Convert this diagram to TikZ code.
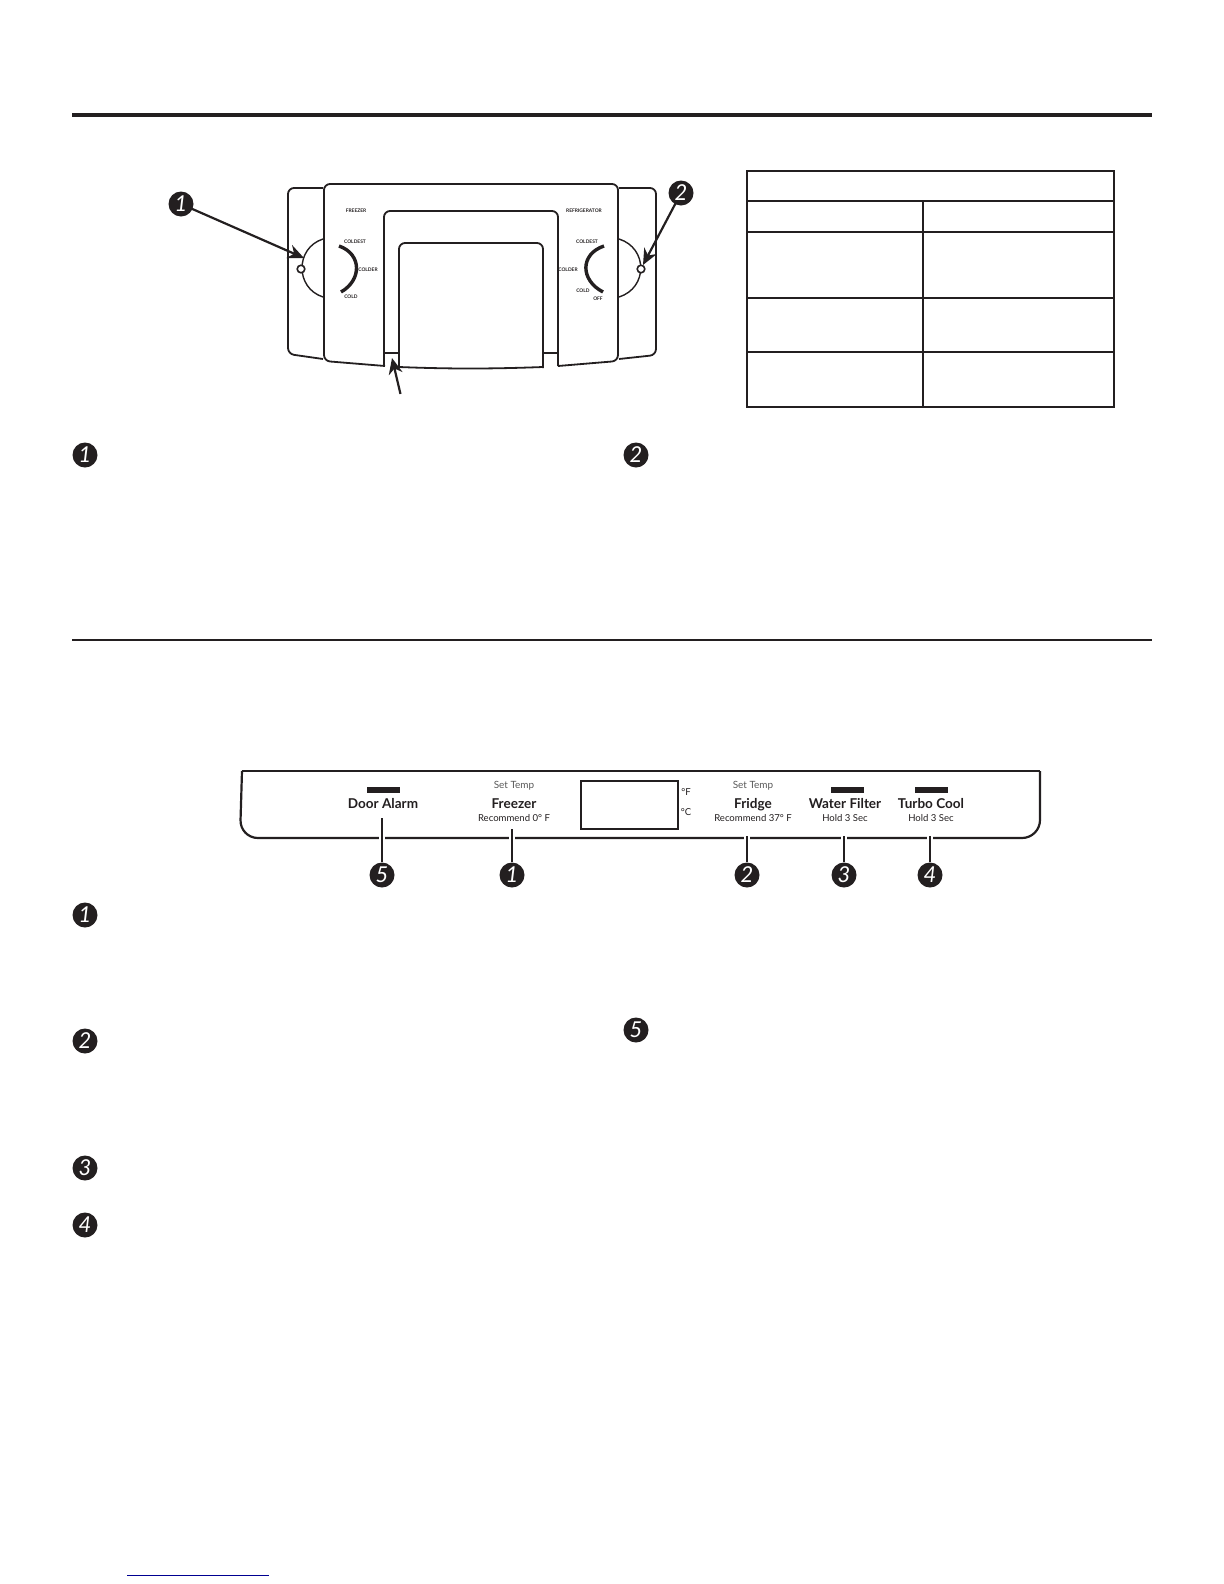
\documentclass[tikz,border=0pt]{standalone}
\usepackage{fontspec}
\setmainfont{Lato}
\usetikzlibrary{arrows.meta, positioning}
\definecolor{inkblack}{RGB}{35,31,32}
\definecolor{linkblue}{RGB}{0,0,145}

\tikzset{
  numbadge/.style={circle, fill=inkblack, text=white, inner sep=0pt, minimum size=12.5bp, font=\itshape\fontsize{11}{11}\selectfont},
  panelline/.style={draw=inkblack, line width=0.9bp, rounded corners=3bp},
  dialarc/.style={draw=inkblack, line width=1.7bp},
  dialring/.style={circle, draw=inkblack, fill=white, line width=0.8bp, inner sep=0pt, minimum size=3.8bp},
  dialtext/.style={inner sep=0pt, text=inkblack, font=\bfseries\fontsize{2.45}{3}\selectfont},
  callout/.style={draw=inkblack, line width=1.1bp, -{Stealth[length=8bp,width=7bp]}, shorten <=-1bp},
  setlabel/.style={inner sep=0pt, text=black!65, font=\fontsize{5}{5}\selectfont},
  keylabel/.style={inner sep=0pt, text=inkblack, text height=1.5ex, text depth=0.3ex, font=\fontsize{6.8}{7}\fontseries{b}\selectfont},
  sublabel/.style={inner sep=0pt, text=inkblack, font=\fontsize{4.8}{5}\selectfont},
  keybar/.style={fill=inkblack, inner sep=0pt, minimum width=16.5bp, minimum height=3bp},
  ticklink/.style={draw=inkblack, line width=1.1bp, preaction={draw=white, line width=3bp}},
  gridline/.style={draw=inkblack, line width=1bp}
}

\begin{document}
\begin{tikzpicture}[x=0.5bp, y=-0.5bp]
\useasboundingbox (0,0) rectangle (1224,1584);

\draw[inkblack, line width=2bp] (72,115) -- (1152,115);
\draw[inkblack, line width=1bp] (72,640) -- (1152,640);
\draw[linkblue, line width=0.5bp] (127,1575) -- (269,1575);

% knob housing
\draw[panelline] (323,188) -- (288,188) -- (288,354) -- (323,359);
\draw[panelline] (619,188) -- (656,188) -- (656,355) -- (619,359);
\draw[panelline] (385,366) -- (324,361) -- (324,184) -- (618,184) -- (618,361) -- (558,366);
\draw[panelline] (384,366) -- (384,211) -- (558,211) -- (558,366);
\draw[panelline] (399,368) -- (399,243) -- (543,243) -- (543,368);
\draw[inkblack, line width=0.9bp] (399,367) .. controls (450,369) and (490,369) .. (543,367);
\draw[inkblack, line width=0.9bp] (384,353) -- (399,353);
\draw[inkblack, line width=0.9bp] (543,353) -- (558,353);

\draw[inkblack, line width=0.7bp] (323,239) .. controls (295,248) and (295,288) .. (323,297);
\draw[inkblack, line width=0.7bp] (619,239) .. controls (648,248) and (648,288) .. (619,297);
\draw[dialarc] (339,246) .. controls (362,254) and (362,280) .. (341,292);
\draw[dialarc] (604,246) .. controls (580,254) and (580,280) .. (603,292);

\node[dialring] (ringfreezer) at (301,269) {};
\node[dialring] (ringfridge) at (641,269) {};

\node[dialtext] (freezertitle) at (356,211) {FREEZER};
\node[dialtext] (freezercoldest) at (355,242) {COLDEST};
\node[dialtext] (freezercolder) at (368,270) {COLDER};
\node[dialtext] (freezercold) at (351,297) {COLD};
\node[dialtext] (fridgetitle) at (584,211) {REFRIGERATOR};
\node[dialtext] (fridgecoldest) at (587,242) {COLDEST};
\node[dialtext] (fridgecolder) at (568,270) {COLDER};
\node[dialtext] (fridgecold) at (583,291) {COLD};
\node[dialtext] (fridgeoff) at (598,299) {OFF};

\node[numbadge] (dialone) at (181,204) {1};
\node[numbadge] (dialtwo) at (681,193) {2};
\coordinate (tipone) at (304,258);
\coordinate (tiptwo) at (643,265);
\coordinate (tiptail) at (400,392);
\coordinate (tiphead) at (392,358);
\draw[callout] (dialone) -- (tipone);
\draw[callout] (dialtwo) -- (tiptwo);
\draw[callout] (tiptail) -- (tiphead);

% settings table
\draw[gridline] (747,171) rectangle (1114,407);
\draw[gridline] (747,201) -- (1114,201);
\draw[gridline] (747,232) -- (1114,232);
\draw[gridline] (747,298) -- (1114,298);
\draw[gridline] (747,352) -- (1114,352);
\draw[gridline] (923,201) -- (923,407);

\node[numbadge] (listone) at (85,455) {1};
\node[numbadge] (listtwo) at (636,455) {2};

% display panel
\draw[inkblack, line width=1.1bp, rounded corners=9bp] (242,771) -- (240,838) -- (1040,838) -- (1040,771);
\draw[inkblack, line width=1.1bp] (242,771) -- (1040,771);
\draw[inkblack, line width=0.9bp] (581,781) rectangle (678,829);
\node[sublabel] (degf) at (686,792) {°F};
\node[sublabel] (degc) at (686,812) {°C};

\node[keybar] (baralarm) at (383.5,790) {};
\node[keybar] (barfilter) at (847.5,790) {};
\node[keybar] (barturbo) at (931,790) {};

\node[keylabel] (doorkey) at (383,802) {Door Alarm};
\node[setlabel] (setfreezer) at (514,786) {Set Temp};
\node[keylabel] (freezerkey) at (514,802) {Freezer};
\node[sublabel] (freezersub) at (514,818) {Recommend 0° F};
\node[setlabel] (setfridge) at (753,786) {Set Temp};
\node[keylabel] (fridgekey) at (753,802) {Fridge};
\node[sublabel] (fridgesub) at (753,818) {Recommend 37° F};
\node[keylabel] (filterkey) at (845,802) {Water Filter};
\node[sublabel] (filtersub) at (845,818) {Hold 3 Sec};
\node[keylabel] (turbokey) at (931,802) {Turbo Cool};
\node[sublabel] (turbosub) at (931,818) {Hold 3 Sec};

\node[numbadge] (keyfive) at (382,875) {5};
\node[numbadge] (keyone) at (512,875) {1};
\node[numbadge] (keytwo) at (747,875) {2};
\node[numbadge] (keythree) at (844,875) {3};
\node[numbadge] (keyfour) at (930,875) {4};
\coordinate (endfive) at (382,818);
\coordinate (endone) at (512,829);
\coordinate (endtwo) at (747,836);
\coordinate (endthree) at (844,836);
\coordinate (endfour) at (930,836);
\draw[ticklink] (keyfive) -- (endfive);
\draw[ticklink] (keyone) -- (endone);
\draw[ticklink] (keytwo) -- (endtwo);
\draw[ticklink] (keythree) -- (endthree);
\draw[ticklink] (keyfour) -- (endfour);

\node[numbadge] (notesone) at (85,915) {1};
\node[numbadge] (notestwo) at (85,1041) {2};
\node[numbadge] (notesthree) at (85,1168) {3};
\node[numbadge] (notesfour) at (85,1225) {4};
\node[numbadge] (notesfive) at (636,1030) {5};

\end{tikzpicture}
\end{document}
